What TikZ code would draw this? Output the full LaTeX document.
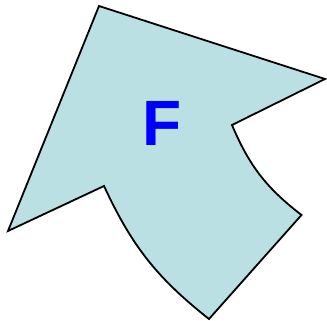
\documentclass[tikz,border=0pt]{standalone}
\usepackage{fontspec}
\setmainfont{Liberation Sans}
\definecolor{shapefill}{RGB}{187,224,227}
\definecolor{letterblue}{RGB}{0,0,255}
\begin{document}
\begin{tikzpicture}[x=1pt,y=-1pt,
  arrowshape/.style={draw=black,fill=shapefill,line width=1.8pt,line join=miter},
  letter/.style={text=letterblue,font=\fontsize{64}{64}\selectfont\bfseries,inner sep=0pt,anchor=base}]
\useasboundingbox (0,0) rectangle (327,321);
\coordinate (top) at (99,6);
\coordinate (rtip) at (325,79);
\coordinate (notch) at (232,125);
\coordinate (rbase) at (301.5,215);
\coordinate (bottom) at (209,319);
\coordinate (lnotch) at (104,186);
\coordinate (ltip) at (8,231);
\draw[arrowshape] (top) -- (rtip) -- (notch) to[bend right=14.7] (rbase) -- (bottom) to[bend left=13.4] (lnotch) -- (ltip) -- cycle;
\node[letter] (F) at (162,145.5) {F};
\end{tikzpicture}
\end{document}
